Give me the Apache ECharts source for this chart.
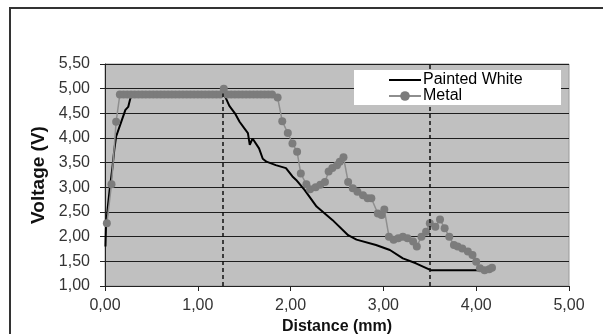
<!DOCTYPE html>
<html>
<head>
<meta charset="utf-8">
<script src="https://cdn.jsdelivr.net/npm/echarts@6/dist/echarts.min.js"></script>
<style>
  html, body { margin: 0; padding: 0; background: #fff; }
  #chart { width: 603px; height: 334px; }
</style>
</head>
<body>
<div id="chart"></div>
<script>
// series names
var legendData = ["Painted White", "Metal"];

// Painted White [distance mm, voltage V]
var paintedWhite = [
  [0.005, 1.80], [0.01, 2.17], [0.03, 2.60], [0.05, 2.95], [0.08, 3.40],
  [0.10, 3.76], [0.12, 4.03], [0.17, 4.30], [0.22, 4.57], [0.25, 4.63],
  [0.27, 4.78], [0.29, 4.88], [1.28, 4.88], [1.30, 4.82], [1.34, 4.65],
  [1.40, 4.50], [1.45, 4.33], [1.50, 4.20], [1.54, 4.10], [1.56, 3.86],
  [1.59, 3.99], [1.66, 3.79], [1.70, 3.58], [1.74, 3.52], [1.84, 3.45],
  [1.95, 3.39], [2.02, 3.22], [2.06, 3.15], [2.15, 2.95], [2.28, 2.61],
  [2.45, 2.34], [2.62, 2.03], [2.71, 1.94], [2.92, 1.83], [3.07, 1.73],
  [3.21, 1.56], [3.35, 1.46], [3.51, 1.32], [4.02, 1.32]
];

// Metal [distance mm, voltage V]
var metal = [
  [0.02, 2.27], [0.07, 3.06], [0.12, 4.33], [0.16, 4.88], [0.20, 4.88],
  [0.24, 4.88], [0.28, 4.88], [0.32, 4.88], [0.36, 4.88], [0.40, 4.88],
  [0.44, 4.88], [0.48, 4.88], [0.52, 4.88], [0.56, 4.88], [0.60, 4.88],
  [0.64, 4.88], [0.68, 4.88], [0.72, 4.88], [0.76, 4.88], [0.80, 4.88],
  [0.84, 4.88], [0.88, 4.88], [0.92, 4.88], [0.96, 4.88], [1.00, 4.88],
  [1.04, 4.88], [1.08, 4.88], [1.12, 4.88], [1.16, 4.88], [1.20, 4.88],
  [1.24, 4.88], [1.28, 5.00], [1.32, 4.88], [1.36, 4.88], [1.40, 4.88],
  [1.44, 4.88], [1.48, 4.88], [1.52, 4.88], [1.56, 4.88], [1.60, 4.88],
  [1.64, 4.88], [1.68, 4.88], [1.72, 4.88], [1.76, 4.88], [1.80, 4.88],
  [1.86, 4.82], [1.91, 4.34], [1.97, 4.10], [2.02, 3.89], [2.07, 3.72],
  [2.11, 3.28], [2.17, 3.06], [2.21, 2.96], [2.27, 3.00], [2.32, 3.05],
  [2.37, 3.11], [2.41, 3.32], [2.45, 3.39], [2.50, 3.45], [2.53, 3.52],
  [2.57, 3.61], [2.62, 3.11], [2.67, 2.98], [2.72, 2.91], [2.78, 2.84],
  [2.83, 2.78], [2.87, 2.78], [2.94, 2.47], [2.98, 2.44], [3.01, 2.55],
  [3.06, 2.00], [3.11, 1.94], [3.16, 1.97], [3.21, 2.00], [3.26, 1.97],
  [3.32, 1.90], [3.36, 1.80], [3.41, 2.00], [3.46, 2.10], [3.50, 2.27],
  [3.56, 2.20], [3.61, 2.35], [3.66, 2.17], [3.71, 2.00], [3.76, 1.83],
  [3.80, 1.80], [3.85, 1.76], [3.91, 1.70], [3.96, 1.63], [4.00, 1.49],
  [4.04, 1.36], [4.09, 1.32], [4.14, 1.34], [4.17, 1.37]
];

// dashed reference lines [x, yTop]
var refLines = [[1.27, 4.90], [3.50, 5.50]];

var chart = echarts.init(document.getElementById("chart"));

function comma(v) {
  return v.toFixed(2).replace(".", ",");
}

var option = {
  backgroundColor: "#fff",
  animation: false,
  graphic: [
    {
      // outer frame of the figure
      type: "rect",
      shape: { x: 10, y: 8, width: 640, height: 400 },
      style: { fill: "none", stroke: "#333", lineWidth: 2 },
      z: 1
    },
    {
      // legend box
      type: "rect",
      shape: { x: 354, y: 70, width: 207, height: 35 },
      style: { fill: "#fff", stroke: "none" },
      z: 10
    }
  ],
  legend: {
    data: [
      { name: legendData[0], itemStyle: { opacity: 0 } },
      legendData[1]
    ],
    orient: "vertical",
    left: 388,
    top: 72,
    itemGap: 0,
    itemWidth: 32,
    itemHeight: 12,
    padding: 0,
    z: 20,
    textStyle: {
      color: "#000",
      fontSize: 16,
      lineHeight: 14,
      fontFamily: "Liberation Sans, Arial",
      padding: [0, 0, 0, -3]
    }
  },
  grid: {
    left: 105,
    right: 34,
    top: 64,
    bottom: 48,
    outerBoundsMode: "none",
    show: true,
    backgroundColor: "#c0c0c0",
    borderColor: "#9a9a9a",
    borderWidth: 1
  },
  xAxis: {
    type: "value",
    min: 0,
    max: 5,
    interval: 1,
    name: "Distance (mm)",
    nameLocation: "middle",
    nameGap: 33,
    nameTextStyle: {
      color: "#111",
      fontSize: 16,
      fontWeight: "bold",
      fontFamily: "Liberation Sans, Arial"
    },
    axisLine: { onZero: false, lineStyle: { color: "#222", width: 1 } },
    axisTick: { show: true, length: 5, lineStyle: { color: "#222" } },
    splitLine: { show: false },
    axisLabel: {
      margin: 12,
      color: "#333",
      fontSize: 16,
      fontFamily: "Liberation Sans, Arial",
      formatter: comma
    }
  },
  yAxis: {
    type: "value",
    min: 1,
    max: 5.5,
    interval: 0.5,
    name: "Voltage (V)",
    nameLocation: "middle",
    nameGap: 56,
    nameTextStyle: {
      color: "#111",
      fontSize: 19,
      fontWeight: "bold",
      fontFamily: "Liberation Sans, Arial"
    },
    axisLine: { show: true, lineStyle: { color: "#222", width: 1 } },
    axisTick: { show: true, length: 5, lineStyle: { color: "#222" } },
    splitLine: { show: true, lineStyle: { color: "#1e1e1e", width: 1.2 } },
    axisLabel: {
      margin: 15,
      color: "#333",
      fontSize: 16,
      fontFamily: "Liberation Sans, Arial",
      formatter: comma
    }
  },
  series: [
    {
      name: legendData[0],
      type: "line",
      data: paintedWhite,
      showSymbol: false,
      symbol: "none",
      lineStyle: { color: "#000", width: 2 },
      itemStyle: { color: "#000" },
      z: 2,
      markLine: {
        silent: true,
        symbol: "none",
        label: { show: false },
        lineStyle: { color: "#111", type: [4, 3], width: 1.5 },
        data: refLines.map(function (r) {
          return [{ coord: [r[0], 1] }, { coord: [r[0], r[1]] }];
        })
      }
    },
    {
      name: legendData[1],
      type: "line",
      data: metal,
      symbol: "circle",
      symbolSize: 8,
      lineStyle: { color: "#8e8e8e", width: 1.5 },
      itemStyle: { color: "#7c7c7c" },
      z: 3
    }
  ]
};

chart.setOption(option);
</script>
</body>
</html>
